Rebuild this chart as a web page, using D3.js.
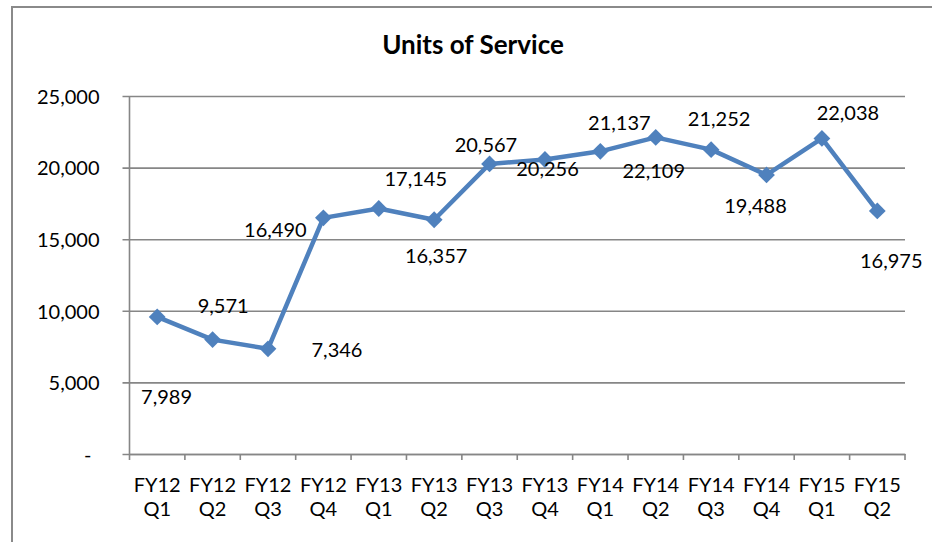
<!DOCTYPE html>
<html><head><meta charset="utf-8">
<script src="https://cdn.jsdelivr.net/npm/d3@7"></script>
<style>body{margin:0;background:#fff}svg{display:block}text{font-family:Lato,"Open Sans",sans-serif}</style>
</head><body>
<svg id="c" width="932" height="542"></svg>
<script>
const title = "Units of Service";
const fiscalYears = ["FY12","FY12","FY12","FY12","FY13","FY13","FY13","FY13","FY14","FY14","FY14","FY14","FY15","FY15"];
const quarters = ["Q1","Q2","Q3","Q4","Q1","Q2","Q3","Q4","Q1","Q2","Q3","Q4","Q1","Q2"];
const units = [9571,7989,7346,16490,17145,16357,20256,20567,21137,22109,21252,19488,22038,16975];
const yTicks = [0,5000,10000,15000,20000,25000];
// label nudges (px) relative to each point, as placed in the original
const labelNudge = [[66,-4],[-46,64],[69,8],[-48,19],[37,-22],[2,43],[58,12],[-59,-7],[19,-21],[-2,41],[8,-24],[-11,38],[26,-18],[14,57]];

const svg = d3.select("#c");
const L = 129.5, R = 905, T = 96, B = 454;
const cats = units.map((d,i)=>i);
const x = d3.scaleBand().domain(cats).range([L,R]);
const y = d3.scaleLinear().domain([0,25000]).range([B,T]);
const grid = "#868686", blue = "#4f81bd";
const fmt = d3.format(",");

// outer border
svg.append("rect").attr("x",12).attr("y",7).attr("width",940).attr("height",560)
  .attr("fill","none").attr("stroke","#8a8a8a").attr("stroke-width",2);

svg.append("text").attr("x",473).attr("y",54).attr("text-anchor","middle")
  .attr("font-size",26).attr("font-weight","bold").text(title);

// y axis with gridlines
const yAxis = svg.append("g").attr("transform",`translate(${L},0)`)
  .call(d3.axisLeft(y).tickValues(yTicks).tickSize(-(R-L)).tickPadding(30)
    .tickFormat(d=> d===0 ? "-" : fmt(d)));
yAxis.select(".domain").remove();
yAxis.selectAll(".tick line").attr("stroke",grid).attr("stroke-width",1.6).attr("x1",-7);
yAxis.selectAll(".tick text").attr("font-size",20).attr("fill","#000")
  .attr("font-family","Lato").attr("dy","0.36em")
  .attr("dx", d=> d===0 ? -8 : 0);
svg.append("line").attr("x1",L).attr("x2",L).attr("y1",T).attr("y2",B)
  .attr("stroke",grid).attr("stroke-width",1.6);

// x axis
const xAxis = svg.append("g").attr("transform",`translate(0,${B})`)
  .call(d3.axisBottom(x).tickSize(0).tickFormat(""));
xAxis.select(".domain").attr("stroke",grid).attr("stroke-width",1.6);
const edges = cats.map(i=>x(i)).concat([R]);
svg.append("g").selectAll("line").data(edges).join("line")
  .attr("x1",d=>d).attr("x2",d=>d).attr("y1",B).attr("y2",B+6)
  .attr("stroke",grid).attr("stroke-width",1.6);
const xl = svg.append("g").selectAll("text").data(cats).join("text")
  .attr("x",i=>x(i)+x.bandwidth()/2).attr("text-anchor","middle").attr("font-size",20);
xl.append("tspan").attr("x",i=>x(i)+x.bandwidth()/2).attr("y",492).text(i=>fiscalYears[i]);
xl.append("tspan").attr("x",i=>x(i)+x.bandwidth()/2).attr("y",516).text(i=>quarters[i]);

// line
const cx = i=>x(i)+x.bandwidth()/2;
svg.append("path").datum(cats)
  .attr("d", d3.line().x(cx).y(i=>y(units[i])))
  .attr("fill","none").attr("stroke",blue).attr("stroke-width",4.5).attr("stroke-linejoin","round");
svg.append("g").selectAll("path").data(cats).join("path")
  .attr("transform",i=>`translate(${cx(i)},${y(units[i])})`)
  .attr("d", d3.symbol().type(d3.symbolDiamond2).size(180))
  .attr("fill",blue);

// data labels
svg.append("g").selectAll("text").data(cats).join("text")
  .attr("x",i=>cx(i)+labelNudge[i][0]).attr("y",i=>y(units[i])+labelNudge[i][1])
  .attr("text-anchor","middle").attr("font-size",20).attr("fill","#000")
  .text(i=>fmt(units[i]));
</script>
</body></html>
